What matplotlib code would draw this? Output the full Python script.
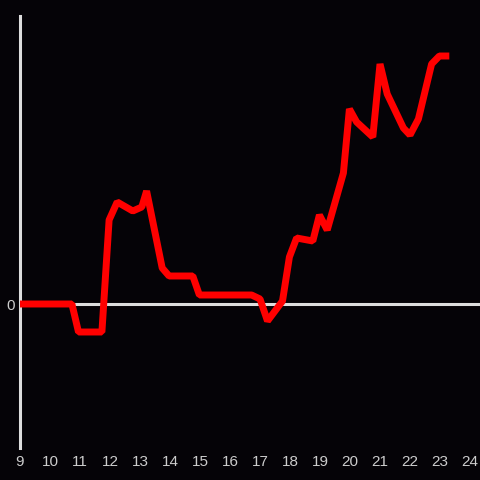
import matplotlib
matplotlib.use("Agg")
import matplotlib.pyplot as plt

hours = [9.0, 10.73, 10.95, 11.73, 11.97, 12.24, 12.76, 13.06, 13.22, 13.74, 13.97,
         14.76, 14.98, 16.72, 17.0, 17.25, 17.75, 17.98, 18.22, 18.76, 18.98, 19.24,
         19.78, 19.98, 20.22, 20.76, 21.0, 21.24, 21.78, 22.0, 22.28, 22.72, 22.98, 23.31]
values = [0, 0, -28, -28, 84, 102, 93, 97, 113, 36, 28,
          28, 9, 9, 5, -17, 3, 47, 66, 63, 89, 74,
          131, 195, 182, 167, 240, 210, 176, 169, 185, 240, 248, 248]
xticks = list(range(9, 25))
yticks = [0]

plt.rcParams['font.family'] = ['Liberation Sans', 'DejaVu Sans']
bg = "#050307"
fig = plt.figure(figsize=(4.8, 4.8), dpi=100, facecolor=bg)
ax = fig.add_axes([20/480, 32/480, 460/480, 432/480], facecolor=bg)
ax.set_xlim(9, 24.333)
ax.set_ylim(-144, 288)
ax.axhline(0, color="#dddddd", lw=2.2, zorder=1)
ax.plot(hours, values, color="#ff0000", lw=5, solid_joinstyle="bevel",
        solid_capstyle="butt", zorder=3)

for s in ["top", "right", "bottom"]:
    ax.spines[s].set_visible(False)
ax.spines["left"].set_color("#dddddd")
ax.spines["left"].set_linewidth(2.2)
ax.set_xticks(xticks)
ax.set_xticklabels([str(t) for t in xticks])
ax.set_yticks(yticks)
ax.set_yticklabels(["0"])
ax.tick_params(axis="both", length=0, colors="#cccccc", labelsize=11)
ax.tick_params(axis="x", pad=5)
ax.tick_params(axis="y", pad=4)
fig.savefig("out.png", dpi=100, facecolor=bg)
